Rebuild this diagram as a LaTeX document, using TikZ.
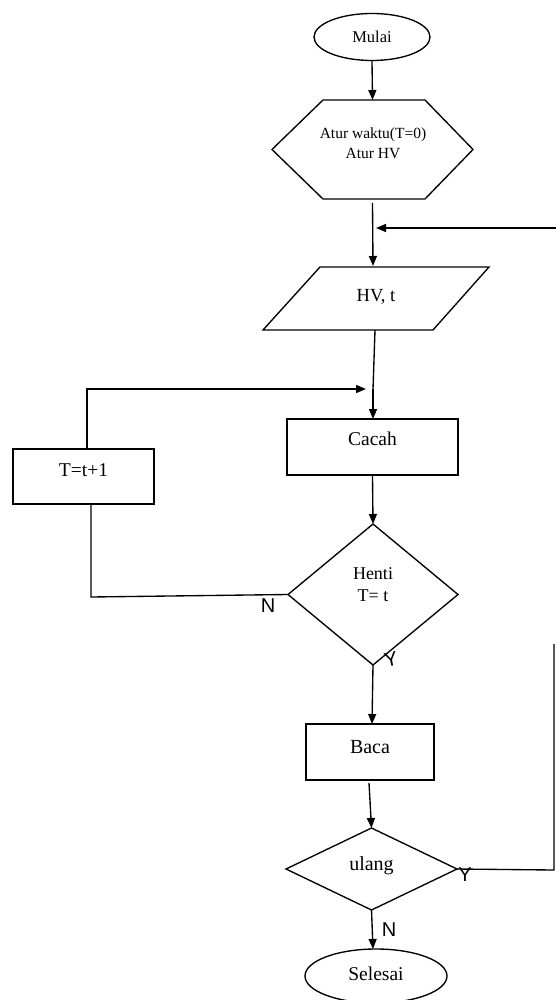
\documentclass[tikz,border=0pt]{standalone}
\usepackage{fontspec}
\setmainfont{Liberation Serif}
\newfontfamily\labfont{Liberation Sans}
\usetikzlibrary{shapes.geometric,arrows.meta,calc}
\begin{document}
\begin{tikzpicture}[x=1pt,y=-1pt,
  line width=1.35pt,
  arr/.style={-{Triangle[length=10pt,width=8pt]}},
  shp/.style={draw=none,inner sep=0pt,outer sep=0pt},
  txt/.style={inner sep=0pt,align=center,font=\fontsize{19.5}{21}\selectfont},
  lab/.style={inner sep=0pt,font=\labfont\fontsize{20}{22}\selectfont},
  ell/.style={ellipse,draw,inner sep=0pt},
  box/.style={rectangle,draw,inner sep=0pt}]
\useasboundingbox (0,0) rectangle (555,1000);
\fill[white] (0,0) rectangle (555,1000);

% Mulai
\node[ell,minimum width=116pt,minimum height=47pt,font=\fontsize{16.5}{18}\selectfont] (mulai) at (372,37) {Mulai};

% hexagon
\node[shp,minimum width=201pt,minimum height=99pt] (atur) at (372.5,149.5) {};
\draw (atur.west) -- ($(atur.north west)+(51,0)$) -- ($(atur.north east)+(-48,0)$) -- (atur.east)
  -- ($(atur.south east)+(-48,0)$) -- ($(atur.south west)+(51,0)$) -- cycle;
\node[txt,font=\fontsize{15.5}{20}\selectfont] (aturT) at (373,143) {Atur waktu(T=0)\\Atur HV};

% parallelogram
\node[shp,minimum width=226pt,minimum height=63pt] (io) at (376,298.5) {};
\draw (io.south west) -- ($(io.north west)+(57,0)$) -- (io.north east) -- ($(io.south east)+(-56,0)$) -- cycle;
\node[txt,font=\fontsize{18.5}{21}\selectfont] (ioT) at (376,297) {HV, t};

% Cacah
\node[box,minimum width=171pt,minimum height=56pt] (cacah) at (372.5,447) {};
\node[txt] (cacahT) at (372.5,439) {Cacah};

% T=t+1
\node[box,minimum width=141pt,minimum height=55pt] (inc) at (83.5,476.5) {};
\node[txt] (incT) at (83.5,470) {T=t+1};

% Henti diamond
\node[shp,minimum width=170pt,minimum height=141pt] (henti) at (373,594.5) {};
\draw (henti.north) -- (henti.east) -- (henti.south) -- (henti.west) -- cycle;
\node[txt,font=\fontsize{18}{22}\selectfont] (hentiT) at (373,585) {Henti\\T= t};

% Baca
\node[box,minimum width=128pt,minimum height=56pt] (baca) at (370,752) {};
\node[txt,font=\fontsize{20}{22}\selectfont] (bacaT) at (370,747) {Baca};

% ulang diamond
\node[shp,minimum width=171pt,minimum height=82pt] (ulang) at (371.5,869) {};
\draw (ulang.north) -- (ulang.east) -- (ulang.south) -- (ulang.west) -- cycle;
\node[txt,font=\fontsize{20}{22}\selectfont] (ulangT) at (371.5,866) {ulang};

% Selesai
\node[ell,minimum width=142pt,minimum height=54pt] (selesai) at (376,976) {};
\node[txt] (selesaiT) at (376,974) {Selesai};

% connector points
\coordinate (m1) at (373,228);
\coordinate (rin) at (556,228);
\coordinate (m2) at (373,389);
\coordinate (lt) at (87,389);
\coordinate (lb) at (91,597);
\coordinate (rb) at (554,870);
\coordinate (rt) at (554,644);

% connectors
\draw[arr] (mulai.south) -- (atur.north);
\draw[arr] ($(atur.south)+(0,4)$) -- (373,266);
\draw[arr] (rin) -- (m1) [shorten >=3pt];
\draw (375,330) -- (373,389);
\draw[arr] (m2) -- (373,419);
\draw[arr] (cacah.south) -- (henti.north);
\draw (henti.west) -- (lb) -- (lb |- inc.south);
\draw[arr] (lt |- inc.north) -- (lt) -- ($(m2)+(-7,0)$);
\draw[arr] (henti.south) -- (372,724);
\draw[arr] (369,783) -- (ulang.north);
\draw (ulang.east) -- (rb) -- (rt);
\draw[arr] (ulang.south) -- (373,949);

% labels
\node[lab] (nl) at (268,606) {N};
\node[lab,rotate=12] (yl) at (391,659) {Y};
\node[lab] (yr) at (465,875) {Y};
\node[lab] (nb) at (389,930) {N};
\end{tikzpicture}
\end{document}
